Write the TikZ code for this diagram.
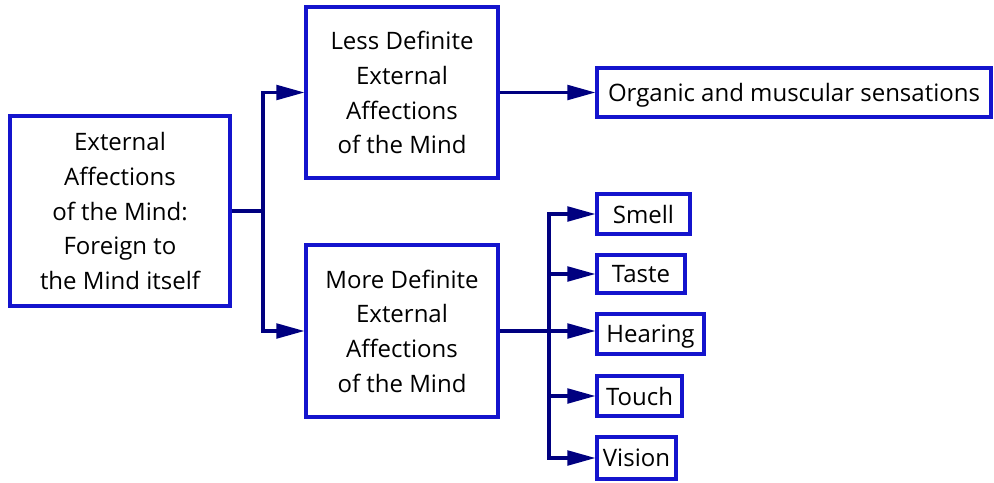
\documentclass[tikz,border=0pt]{standalone}
\usepackage{fontspec}
\setmainfont{Open Sans}
\usetikzlibrary{arrows.meta}
\definecolor{boxblue}{RGB}{20,20,205}
\definecolor{linkblue}{RGB}{0,0,128}
\begin{document}
\begin{tikzpicture}[x=0.75pt,y=-0.75pt,
  box/.style={draw=boxblue,line width=2.3pt,fill=white,align=center,
    font=\fontsize{18}{26}\selectfont,inner sep=2pt,text depth=0pt},
  link/.style={draw=linkblue,line width=2.3pt},
  arrow/.style={link,-{Triangle[length=21pt,width=11pt]}}]
  \useasboundingbox (0,0) rectangle (994,482);

  % main boxes
  \node[box,minimum width=220*0.75pt,minimum height=190*0.75pt] (root) at (120,211)
    {External\\Affections\\of the Mind:\\Foreign to\\the Mind itself};
  \node[box,minimum width=192*0.75pt,minimum height=171*0.75pt] (less) at (402,92.5)
    {Less Definite\\External\\Affections\\of the Mind};
  \node[box,minimum width=192*0.75pt,minimum height=172*0.75pt] (more) at (402,331)
    {More Definite\\External\\Affections\\of the Mind};

  % leaf boxes
  \node[box,minimum width=394*0.75pt,minimum height=49*0.75pt] (organic) at (794,92.5)
    {Organic and muscular sensations};
  \node[box,minimum width=93*0.75pt,minimum height=40*0.75pt] (smell) at (643.5,214) {Smell};
  \node[box,minimum width=88*0.75pt,minimum height=38*0.75pt] (taste) at (641,274) {Taste};
  \node[box,minimum width=107*0.75pt,minimum height=40*0.75pt] (hearing) at (650.5,334) {Hearing};
  \node[box,minimum width=85*0.75pt,minimum height=40*0.75pt] (touch) at (639.5,396) {Touch};
  \node[box,minimum width=79*0.75pt,minimum height=42*0.75pt] (vision) at (636.5,458) {Vision};

  % junction points
  \coordinate (j1) at (263,211);
  \coordinate (j2) at (549,331);

  % connectors
  \draw[link] (root.east) -- (j1);
  \draw[arrow] (j1) |- (less.west);
  \draw[arrow] (j1) |- (more.west);
  \draw[arrow] (less.east) -- (organic.west);

  \draw[link] (more.east) -- (j2);
  \draw[arrow] (j2) |- (smell.west);
  \draw[arrow] (j2) |- (taste.west);
  \draw[arrow] (j2) -- (j2 -| hearing.west);
  \draw[arrow] (j2) |- (touch.west);
  \draw[arrow] (j2) |- (vision.west);
\end{tikzpicture}
\end{document}
